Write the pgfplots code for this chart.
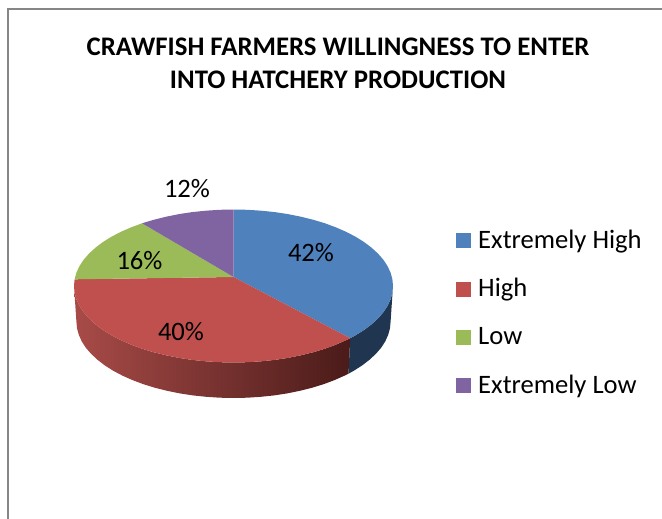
\documentclass[border=0pt]{standalone}
\usepackage{pgfplots}
\pgfplotsset{compat=1.18}
\usepackage{fontspec}
\setmainfont{Carlito}
\definecolor{cblue}{HTML}{4F81BD}
\definecolor{cred}{HTML}{C0504D}
\definecolor{cgreen}{HTML}{9BBB59}
\definecolor{cpurple}{HTML}{8064A2}
\definecolor{wallblue}{HTML}{1F3550}
\definecolor{wallL}{HTML}{A84B48}
\definecolor{wallR}{HTML}{4A1B19}
\definecolor{frame}{HTML}{868686}
\begin{document}
\begin{tikzpicture}
\useasboundingbox (0,0) rectangle (662pt,519pt);
\begin{axis}[
  at={(0,0)}, anchor=south west,
  scale only axis, width=662pt, height=519pt,
  xmin=0, xmax=662, ymin=0, ymax=519, y dir=reverse,
  axis lines=none, clip=true,
  title={CRAWFISH FARMERS WILLINGNESS TO ENTER\\INTO HATCHERY PRODUCTION},
  title style={at={(axis cs:338,69)}, anchor=center, align=center,
    font=\fontsize{26.8}{33}\selectfont\bfseries},
  legend cell align=left,
  legend style={at={(axis cs:456,230)}, anchor=north west, draw=none, fill=none,
    font=\fontsize{26.6}{30}\selectfont, row sep=24.3pt, inner sep=0pt,
    nodes={inner sep=0pt, anchor=base west, text height=18pt, text depth=6pt}},
  legend image code/.code={\fill[#1] (0pt,0pt) rectangle (15pt,15pt);\path (22pt,0pt);},
]
% chart frame
\addplot[draw=frame, line width=2pt, forget plot] coordinates {(662,9) (8,9) (8,519)};
% side walls
\addplot[draw=none, fill=wallblue, forget plot] coordinates {
 (393,286) (392.4,292.7) (390.6,299.3) (387.6,305.8) (383.4,312.2) (378.1,318.3) (371.6,324.25)
 (364.2,329.9) (355.7,335.2) (350.2,338.2) (348.5,373.7) (353.9,370.7) (362.2,365.4) (369.5,359.75)
 (375.9,353.8) (381.2,347.7) (385.3,341.3) (388.2,334.8) (390,328.2) (390.6,321.5) (393,286)};
\addplot[draw=none, left color=wallL, right color=wallR, forget plot] coordinates {
 (350.2,338.2) (346.3,340.1) (336,344.6) (325,348.7) (313.25,352.25) (300.9,355.3) (288,357.9)
 (274.8,359.9) (261.2,361.3) (247.4,362.2) (233.5,362.5) (219.6,362.2) (205.8,361.3) (192.2,359.9)
 (179,357.9) (166.1,355.3) (153.75,352.25) (142,348.7) (131,344.6) (120.7,340.1) (111.3,335.2)
 (102.8,329.9) (95.4,324.25) (88.9,318.3) (83.6,312.2) (79.4,305.8) (76.4,299.3) (74.6,292.7) (74,286)
 (76.4,321.5) (77,328.2) (78.8,334.8) (81.7,341.3) (85.8,347.7) (91.1,353.8) (97.5,359.75) (104.8,365.4)
 (113.1,370.7) (122.4,375.6) (132.5,380.1) (143.4,384.2) (154.9,387.75) (167.1,390.8) (179.8,393.4)
 (192.8,395.4) (206.2,396.8) (219.8,397.7) (233.5,398) (247.2,397.7) (260.8,396.8) (274.2,395.4)
 (287.2,393.4) (299.9,390.8) (312.1,387.75) (323.6,384.2) (334.5,380.1) (344.6,375.6) (348.5,373.7)
 (350.2,338.2)};
% top faces: 42 %, 40 %, 16 %, 12 %
\addplot[draw=none, fill=cblue] coordinates {
 (233.5,277) (233.5,209.5) (247.4,209.8) (261.2,210.7) (274.8,212.1) (288,214.1) (300.9,216.7)
 (313.25,219.75) (325,223.3) (336,227.4) (346.3,231.9) (355.7,236.8) (364.2,242.1) (371.6,247.75)
 (378.1,253.7) (383.4,259.8) (387.6,266.2) (390.6,272.7) (392.4,279.3) (393,286) (392.4,292.7)
 (390.6,299.3) (387.6,305.8) (383.4,312.2) (378.1,318.3) (371.6,324.25) (364.2,329.9) (355.7,335.2)
 (350.2,338.2) (233.5,277)};
\addplot[draw=none, fill=cred] coordinates {
 (233.5,277) (350.2,338.2) (346.3,340.1) (336,344.6) (325,348.7) (313.25,352.25) (300.9,355.3) (288,357.9)
 (274.8,359.9) (261.2,361.3) (247.4,362.2) (233.5,362.5) (219.6,362.2) (205.8,361.3) (192.2,359.9)
 (179,357.9) (166.1,355.3) (153.75,352.25) (142,348.7) (131,344.6) (120.7,340.1) (111.3,335.2)
 (102.8,329.9) (95.4,324.25) (88.9,318.3) (83.6,312.2) (79.4,305.8) (76.4,299.3) (74.6,292.7) (74,286)
 (74.6,279.3) (233.5,277)};
\addplot[draw=none, fill=cgreen] coordinates {
 (233.5,277) (74.6,279.3) (76.4,272.7) (79.4,266.2) (83.6,259.8) (88.9,253.7) (95.4,247.75) (102.8,242.1)
 (111.3,236.8) (120.7,231.9) (131,227.4) (142,223.3) (233.5,277)};
\addplot[draw=none, fill=cpurple] coordinates {
 (233.5,277) (142,223.3) (153.75,219.75) (166.1,216.7) (179,214.1) (192.2,212.1) (205.8,210.7)
 (219.6,209.8) (233.5,209.5) (233.5,277)};
\legend{Extremely High,High,Low,Extremely Low}
% data labels
\node[font=\fontsize{26.6}{30}\selectfont] at (axis cs:311,253) {42\%};
\node[font=\fontsize{26.6}{30}\selectfont] at (axis cs:181,332) {40\%};
\node[font=\fontsize{26.6}{30}\selectfont] at (axis cs:139.5,261) {16\%};
\node[font=\fontsize{26.6}{30}\selectfont] at (axis cs:187,189) {12\%};
\end{axis}
\end{tikzpicture}
\end{document}
